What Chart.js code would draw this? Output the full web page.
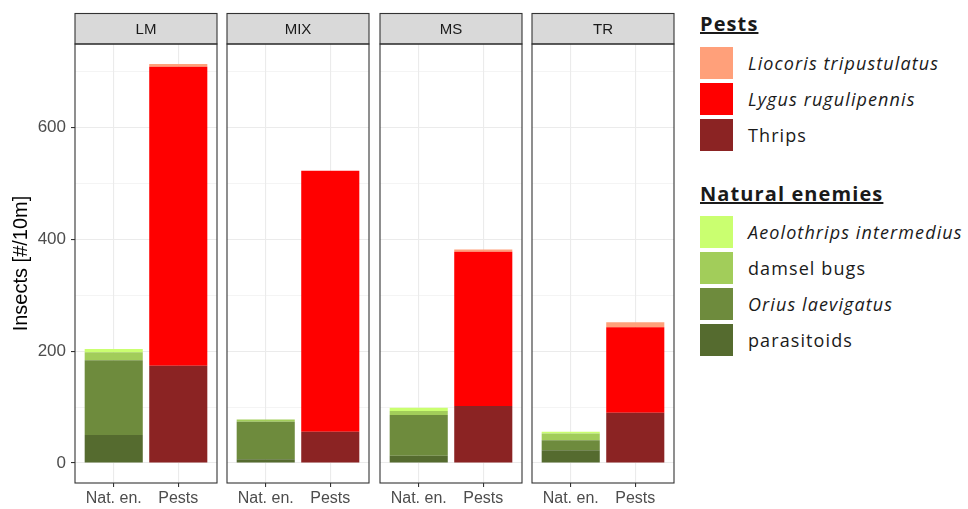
<!DOCTYPE html>
<html>
<head>
<meta charset="utf-8">
<script src="https://cdn.jsdelivr.net/npm/chart.js@4.4.0/dist/chart.umd.min.js"></script>
<style>
body{margin:0;background:#fff;width:968px;height:509px;overflow:hidden;position:relative;font-family:"Liberation Sans",Arial,sans-serif}
.panel{position:absolute;top:0;height:509px}
#legend{position:absolute;left:700px;top:0;font-family:"Open Sans",sans-serif;color:#1a1a1a}
.ttl{position:absolute;left:0;font-weight:bold;font-size:20px;letter-spacing:1.1px;text-decoration:underline;white-space:nowrap;line-height:24px}
.item{position:absolute;left:0;height:32px;white-space:nowrap}
.key{position:absolute;left:0;top:0;width:33px;height:32px}
.lab{position:absolute;left:48px;top:0;line-height:32px;font-size:18px;letter-spacing:1.1px}
</style>
</head>
<body>
<div id="legend"></div>
<script>
const sites = ['LM', 'MIX', 'MS', 'TR'];
const groups = ['Nat. en.', 'Pests'];

// natural enemies, bottom to top
const parasitoids = [50, 7, 13, 23];
const orius = [134, 67, 73, 18];
const damselBugs = [14, 4, 7, 12];
const aeolothrips = [6, 0, 6, 3];

// pests, bottom to top
const thrips = [174, 56, 102, 90];
const lygus = [535, 467, 276, 153];
const liocoris = [5, 0, 4, 9];

const yMajor = [0, 200, 400, 600];
const yMinor = [100, 300, 500, 700];

const enemyNames = ['parasitoids', 'Orius laevigatus', 'damsel bugs', 'Aeolothrips intermedius'];
const enemyValues = [parasitoids, orius, damselBugs, aeolothrips];
const enemyColors = ['#556B2F', '#6E8B3D', '#A2CD5A', '#CAFF70'];
const enemyItalic = [false, true, false, true];

const pestNames = ['Thrips', 'Lygus rugulipennis', 'Liocoris tripustulatus'];
const pestValues = [thrips, lygus, liocoris];
const pestColors = ['#8B2323', '#FF0000', '#FFA07A'];
const pestItalic = [false, true, true];

const panelLeft = [75, 227, 380, 532];

const facetFrame = {
  id: 'facetFrame',
  afterDraw(chart, args, opts) {
    const ctx = chart.ctx;
    const a = chart.chartArea;
    const top = 13.5;
    ctx.save();
    ctx.fillStyle = '#D9D9D9';
    ctx.fillRect(a.left, top, a.right - a.left, a.top - top);
    ctx.strokeStyle = '#333333';
    ctx.lineWidth = 1.1;
    ctx.strokeRect(a.left, top, a.right - a.left, a.top - top);
    ctx.strokeRect(a.left, a.top, a.right - a.left, a.bottom - a.top);
    ctx.fillStyle = '#1A1A1A';
    ctx.font = '15px "Liberation Sans"';
    ctx.textAlign = 'center';
    ctx.textBaseline = 'middle';
    ctx.fillText(opts.text, (a.left + a.right) / 2, (top + a.top) / 2 + 1);
    ctx.restore();
  }
};

const isMajor = c => c.tick && yMajor.includes(c.tick.value);

sites.forEach((site, i) => {
  const yW = i === 0 ? 75 : 4;
  const wrap = document.createElement('div');
  wrap.className = 'panel';
  wrap.style.left = (panelLeft[i] - yW) + 'px';
  wrap.style.width = (yW + 146) + 'px';
  const canvas = document.createElement('canvas');
  wrap.appendChild(canvas);
  document.body.appendChild(wrap);

  const datasets = [];
  enemyNames.forEach((name, k) => {
    datasets.push({label: name, data: [{x: 1, y: enemyValues[k][i]}], backgroundColor: enemyColors[k]});
  });
  pestNames.forEach((name, k) => {
    datasets.push({label: name, data: [{x: 2, y: pestValues[k][i]}], backgroundColor: pestColors[k]});
  });

  new Chart(canvas, {
    type: 'bar',
    data: {datasets: datasets},
    plugins: [facetFrame],
    options: {
      responsive: true,
      maintainAspectRatio: false,
      animation: false,
      barPercentage: 0.9,
      categoryPercentage: 1,
      layout: {padding: {top: 44, right: 4, left: 0, bottom: 0}},
      plugins: {
        legend: {display: false},
        tooltip: {enabled: false},
        facetFrame: {text: site}
      },
      scales: {
        x: {
          type: 'linear',
          stacked: true,
          offset: false,
          min: 0.4,
          max: 2.6,
          afterBuildTicks: s => { s.ticks = [{value: 1}, {value: 2}]; },
          afterFit: s => { s.height = 26; },
          border: {display: false},
          grid: {offset: false, color: '#EBEBEB', lineWidth: 1.1, tickLength: 4, tickColor: '#333333'},
          ticks: {
            autoSkip: false,
            maxRotation: 0,
            color: '#4D4D4D',
            padding: 2,
            font: {size: 16, family: 'Liberation Sans'},
            callback: v => groups[v - 1] || ''
          }
        },
        y: {
          type: 'linear',
          stacked: true,
          min: -35.7,
          max: 749.7,
          afterBuildTicks: s => {
            s.ticks = yMajor.concat(yMinor).sort((a, b) => a - b).map(v => ({value: v}));
          },
          afterFit: s => { s.width = yW; },
          border: {display: false},
          grid: {
            color: '#EBEBEB',
            lineWidth: c => isMajor(c) ? 1.1 : 0.55,
            drawTicks: i === 0,
            tickLength: 4,
            tickColor: c => isMajor(c) ? '#333333' : 'rgba(0,0,0,0)'
          },
          ticks: {
            display: i === 0,
            color: '#4D4D4D',
            padding: 5,
            font: {size: 17, family: 'Liberation Sans'},
            callback: v => yMajor.includes(v) ? v : ''
          },
          title: {
            display: i === 0,
            text: 'Insects [#/10m]',
            color: '#000000',
            font: {size: 20, family: 'Liberation Sans'},
            padding: {top: 9, bottom: 0}
          }
        }
      }
    }
  });
});

// legend
const legend = document.getElementById('legend');
function addTitle(text, top) {
  const d = document.createElement('div');
  d.className = 'ttl';
  d.style.top = top + 'px';
  d.textContent = text;
  legend.appendChild(d);
}
function addItem(name, color, italic, top) {
  const it = document.createElement('div');
  it.className = 'item';
  it.style.top = top + 'px';
  const k = document.createElement('div');
  k.className = 'key';
  k.style.background = color;
  const l = document.createElement('div');
  l.className = 'lab';
  l.textContent = name;
  if (italic) l.style.fontStyle = 'italic';
  it.appendChild(k);
  it.appendChild(l);
  legend.appendChild(it);
}
addTitle('Pests', 12);
for (let k = pestNames.length - 1, n = 0; k >= 0; k--, n++) {
  addItem(pestNames[k], pestColors[k], pestItalic[k], 46.5 + n * 36);
}
addTitle('Natural enemies', 182);
for (let k = enemyNames.length - 1, n = 0; k >= 0; k--, n++) {
  addItem(enemyNames[k], enemyColors[k], enemyItalic[k], 215.5 + n * 36);
}
</script>
</body>
</html>
